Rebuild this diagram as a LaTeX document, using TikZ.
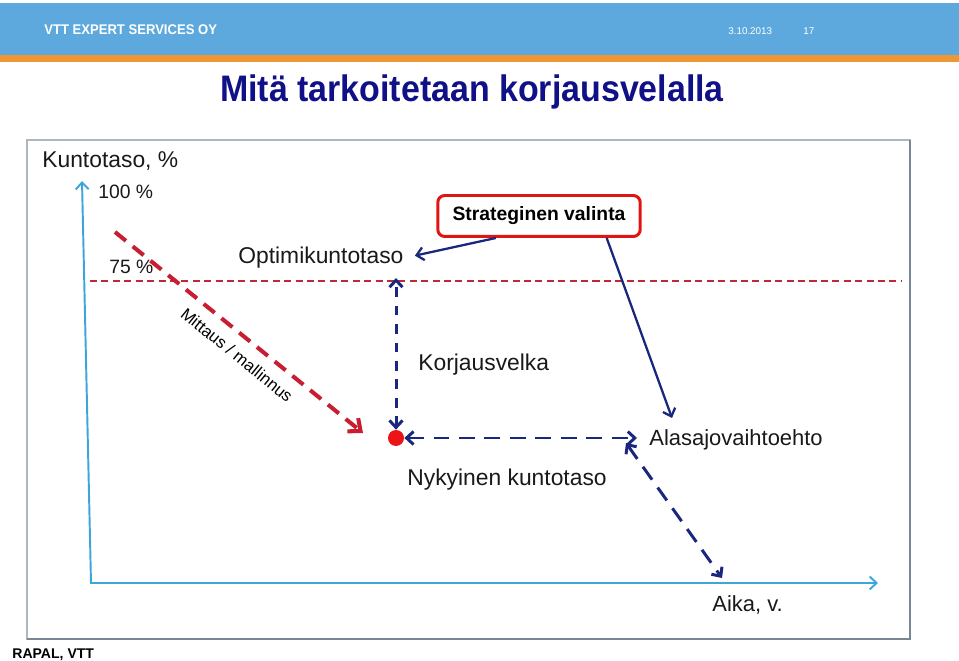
\documentclass[tikz,border=0pt]{standalone}
\usepackage{fontspec}
\usepackage{graphicx}
\setmainfont{Liberation Sans}
\usetikzlibrary{arrows.meta,positioning,calc}

\definecolor{vttblue}{RGB}{93,169,221}
\definecolor{vttorange}{RGB}{240,150,50}
\definecolor{titlenavy}{RGB}{16,16,135}
\definecolor{axisblue}{RGB}{60,165,220}
\definecolor{levelred}{RGB}{190,40,55}
\definecolor{trendred}{RGB}{200,30,50}
\definecolor{pathnavy}{RGB}{25,40,125}
\definecolor{dotred}{RGB}{235,20,25}
\definecolor{boxred}{RGB}{225,20,20}
\definecolor{frameline}{RGB}{120,135,150}

\begin{document}
\begin{tikzpicture}[
  x=0.02cm, y=-0.02cm,
  >={Straight Barb[length=1.4mm,width=2.6mm]},
  hdr/.style={anchor=west, inner sep=0pt, text=white, font=\bfseries\fontsize{8}{9}\selectfont},
  small/.style={anchor=west, inner sep=0pt, text=white, font=\fontsize{5.6}{7}\selectfont},
  heading/.style={anchor=base, inner sep=0pt, text=titlenavy, font=\bfseries\fontsize{21}{24}\selectfont},
  lbl/.style={anchor=base west, inner sep=0pt, text=black!90, font=\fontsize{13}{15}\selectfont},
  pct/.style={lbl, font=\fontsize{11}{13}\selectfont},
  choice/.style={draw=boxred, line width=1.7pt, rounded corners=4pt, fill=white,
                 minimum width=4.05cm, minimum height=0.82cm, inner sep=0pt,
                 font=\bfseries\fontsize{11}{13}\selectfont},
  axis/.style={<->, axisblue, line width=1.1pt, line join=miter},
  level/.style={levelred, line width=1.1pt, dash pattern=on 4pt off 2.5pt},
  trend/.style={->, trendred, line width=2.3pt, dash pattern=on 8pt off 5pt,
                >={Straight Barb[length=2mm,width=3.4mm]}},
  gap/.style={<->, pathnavy, line width=1.7pt, dash pattern=on 5.5pt off 5pt},
  route/.style={<->, pathnavy, line width=1.7pt, dash pattern=on 9pt off 5.5pt},
  pick/.style={->, pathnavy, line width=1.3pt}
]
\useasboundingbox (0,0) rectangle (959,661);

% ---------- Header ----------
\fill[vttblue] (0,3) rectangle (959,55);
\fill[vttorange] (0,55) rectangle (959,62);
\node[hdr] (company) at (44,30) {\scalebox{0.93}[1]{VTT EXPERT SERVICES OY}};
\node[small] (date) at (728,31) {3.10.2013};
\node[small] (page) at (803,31) {17};
\node[heading] (title) at (472,102) {\scalebox{0.92}[1]{Mitä tarkoitetaan korjausvelalla}};

% ---------- Frame ----------
\draw[frameline!60, line width=0.6pt] (27,140) rectangle (910,639);
\draw[frameline, line width=1.3pt] (910,140) -- (910,639) -- (27,639);

% ---------- Axes ----------
\coordinate (origin) at (91,583);
\coordinate (ytop) at (82,181);
\coordinate (xend) at (878,583);
\draw[axis] (ytop) -- (origin) -- (xend);
\node[lbl] (ylab) at (42,168) {Kuntotaso, \%};
\node[pct] (p100) at (98,199) {100 \%};
\node[pct] (p75) at (109,274) {75 \%};
\node[lbl, font=\fontsize{12.5}{15}\selectfont] (xlab) at (712,611) {Aika, v.};

% ---------- Optimum level ----------
\coordinate (lvlL) at (90,281);
\coordinate (lvlR) at (902,281);
\draw[level] (lvlL) -- (lvlR);

% ---------- Measurement ----------
\coordinate (mstart) at (115,232);
\coordinate (mend) at (363,433);
\draw[trend] (mstart) -- (mend);
\node[rotate=-39, inner sep=0pt, font=\fontsize{9.5}{11}\selectfont] (meas) at (237,355) {Mittaus / mallinnus};

% ---------- Current level and debt ----------
\node[circle, fill=dotred, minimum size=0.32cm, inner sep=0pt] (cur) at (396,438) {};
\coordinate (opt) at (396,278);
\draw[gap] (cur) -- (opt);
\node[lbl] (optlab) at (238,264) {Optimikuntotaso};
\node[lbl] (debtlab) at (418,371) {Korjausvelka};
\node[lbl] (curlab) at (407,485) {Nykyinen kuntotaso};

% ---------- Run-down option ----------
\coordinate (altR) at (637,438);
\coordinate (altD) at (626,443);
\coordinate (zero) at (722,578);
\draw[route] (cur) -- (altR);
\draw[route] (altD) -- (zero);
\node[lbl, font=\fontsize{12.5}{15}\selectfont] (altlab) at (649,446) {Alasajovaihtoehto};

% ---------- Strategic choice ----------
\node[choice] (strat) at (539,216) {Strateginen valinta};
\coordinate (altTop) at (672,418);
\draw[pick, shorten >=6.5pt] (strat.207) -- (optlab.east);
\draw[pick] (strat.342) -- (altTop);

% ---------- Source ----------
\node[anchor=base west, inner sep=0pt, font=\bfseries\fontsize{8}{10}\selectfont] (source) at (12,658) {RAPAL, VTT};

\end{tikzpicture}
\end{document}
